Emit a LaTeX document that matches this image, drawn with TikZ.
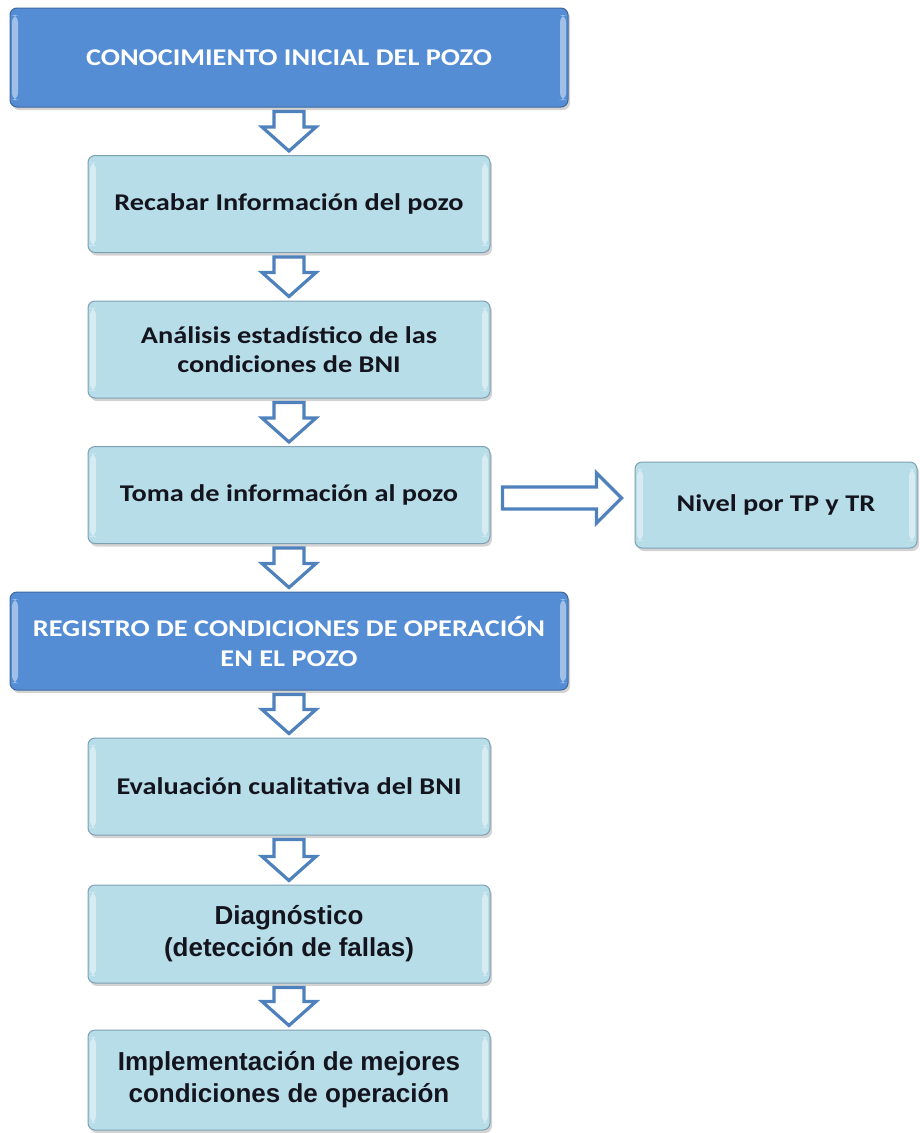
\documentclass[tikz,border=0pt]{standalone}
\usepackage{fontspec}
\setmainfont{Carlito}
\newfontfamily\cajafont[FakeStretch=1.18]{Carlito}
\newfontfamily\arialfont{Liberation Sans}
\usetikzlibrary{calc, shadows}

\definecolor{azuloscuro}{RGB}{84,141,212}
\definecolor{bordeoscuro}{RGB}{62,105,160}
\definecolor{azulclaro}{RGB}{183,221,232}
\definecolor{bordeclaro}{RGB}{125,160,178}
\definecolor{flechaazul}{RGB}{79,129,189}
\definecolor{textooscuro}{RGB}{20,20,30}

\tikzset{
  caja/.style={rounded corners=7pt, align=center, inner sep=0pt, line width=1pt,
    drop shadow={shadow xshift=2pt, shadow yshift=-3pt, opacity=.35},
    path picture={
      \fill[white,opacity=.45] ([xshift=2pt,yshift=-7pt]path picture bounding box.north west) rectangle ([xshift=8pt,yshift=7pt]path picture bounding box.south west);
      \fill[white,opacity=.45] ([xshift=-2pt,yshift=-7pt]path picture bounding box.north east) rectangle ([xshift=-8pt,yshift=7pt]path picture bounding box.south east);
    }},
  etapa/.style={caja, fill=azuloscuro, draw=bordeoscuro, text=white,
    font=\cajafont\bfseries\fontsize{24}{30}\selectfont, minimum width=558, minimum height=99},
  paso/.style={caja, fill=azulclaro, draw=bordeclaro, text=textooscuro,
    font=\cajafont\bfseries\fontsize{24}{29}\selectfont, minimum width=402, minimum height=97},
  pasoarial/.style={paso, font=\arialfont\bfseries\fontsize{26}{32}\selectfont},
  flecha/.style={draw=flechaazul, fill=white, line width=3.2pt, line join=miter}
}

% block arrow from one box down to the next
\newcommand{\bajar}[2]{%
  \draw[flecha] let \p1=($(#1.south)+(0,-4)$), \p2=($(#2.north)+(0,4)$) in
    (\x1-15pt,\y1) -- (\x1+15pt,\y1) -- (\x1+15pt,\y2+24pt) -- (\x1+27pt,\y2+24pt)
    -- (\x1,\y2) -- (\x1-27pt,\y2+24pt) -- (\x1-15pt,\y2+24pt) -- cycle;}

\begin{document}
\begin{tikzpicture}[x=1pt, y=1pt]
  \useasboundingbox (0,0) rectangle (919,-1133);

  % Steps
  \node[etapa] (inicio) at (289,-57.5) {CONOCIMIENTO INICIAL DEL POZO};
  \node[paso] (recabar) at (289,-204) {Recabar Información del pozo};
  \node[paso] (analisis) at (289,-349.5) {Análisis estadístico de las\\condiciones de BNI};
  \node[paso] (toma) at (289,-495) {Toma de información al pozo};
  \node[paso, minimum width=282, minimum height=86] (nivel) at (776,-505) {Nivel por TP y TR};
  \node[etapa, minimum height=98] (registro) at (289,-641) {REGISTRO DE CONDICIONES DE OPERACIÓN\\EN EL POZO};
  \node[paso] (evaluacion) at (289,-786.5) {Evaluación cualitativa del BNI};
  \node[pasoarial, minimum height=98] (diagnostico) at (289,-934) {Diagnóstico\\(detección de fallas)};
  \node[pasoarial, minimum height=100] (mejoras) at (289,-1080) {Implementación de mejores\\condiciones de operación};

  % Arrows
  \bajar{inicio}{recabar}
  \bajar{recabar}{analisis}
  \bajar{analisis}{toma}
  \bajar{toma}{registro}
  \bajar{registro}{evaluacion}
  \bajar{evaluacion}{diagnostico}
  \bajar{diagnostico}{mejoras}

  % side arrow
  \draw[flecha] let \p1=($(toma.east)+(12,-3)$), \p2=($(nivel.west)+(-13,0)$) in
    (\x1,\y1-11pt) -- (\x2-25pt,\y1-11pt) -- (\x2-25pt,\y1-25pt) -- (\x2,\y1)
    -- (\x2-25pt,\y1+25pt) -- (\x2-25pt,\y1+11pt) -- (\x1,\y1+11pt) -- cycle;
\end{tikzpicture}
\end{document}
